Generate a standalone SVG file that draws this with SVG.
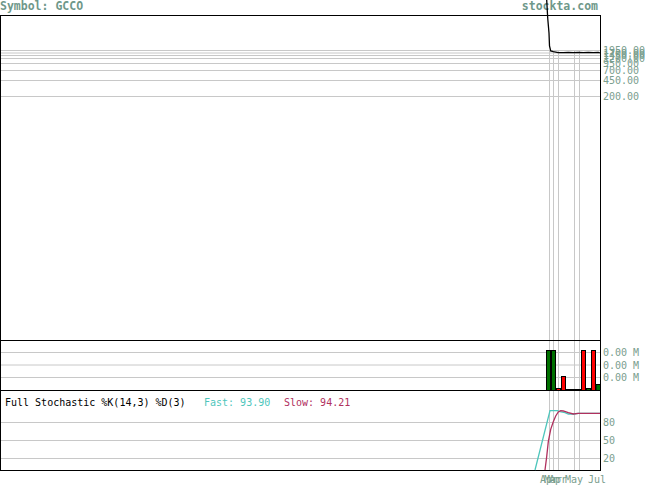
<svg xmlns="http://www.w3.org/2000/svg" width="655" height="486" viewBox="0 0 655 486">
<style>
.bg{fill:#ffffff}
.frame{fill:none;stroke:#000;stroke-width:1}
.grid{stroke:#c8c8c8;stroke-width:1;fill:none}
.lbl{font-family:"DejaVu Sans Mono","Liberation Mono",monospace;font-size:10px;fill:#7a9e8e}
.hdr{font-family:"DejaVu Sans Mono","Liberation Mono",monospace;font-size:11.5px;font-weight:bold;fill:#6f988a}
.title{font-family:"DejaVu Sans Mono","Liberation Mono",monospace;font-size:10px;fill:#000}
.fast{fill:#4ec6bc}
.slow{fill:#b0305e}
.price{fill:none;stroke:#000;stroke-width:1.3}
.vg{fill:#007000;stroke:#000;stroke-width:1}
.vr{fill:#ff0000;stroke:#000;stroke-width:1}
.kline{fill:none;stroke:#4ec6bc;stroke-width:1.3}
.dline{fill:none;stroke:#b0305e;stroke-width:1.3}
</style>
<rect class="bg" x="0" y="0" width="655" height="486"/>

<g id="header">
<text class="hdr" x="0" y="10">Symbol: GCCO</text>
<text class="hdr" x="598" y="10" text-anchor="end">stockta.com</text>
</g>

<g id="grid">
<path class="grid" d="M1 50.5H600M1 53H600M1 55.5H600M1 58.5H600M1 63.5H600M1 70.5H600M1 80.5H600M1 96.5H600"/>
<path class="grid" d="M1 352.5H600M1 365H600M1 377.5H600"/>
<path class="grid" d="M1 422.5H600M1 440.5H600M1 458.5H600"/>
<path class="grid" d="M549.5 50.5V470M553.5 50.5V470M558.5 50.5V470M574.5 50.5V470M579.5 50.5V470"/>
</g>

<g id="price-panel">
<rect class="frame" x="0.5" y="15.5" width="600" height="325"/>
<polyline class="price" points="546.7,0 547.7,18 549,33 549.5,46 550.7,51 553.3,51.7 558.3,52.7 563.3,52.7 568.3,52.3 573.3,52.7 578.3,52.3 583.3,52.7 588.3,52.3 593.3,52.7 598.3,52.3 600.5,53"/>
<g class="lbl">
<text x="603" y="54">1950.00</text>
<text x="603" y="56.5">1700.00</text>
<text x="603" y="59">1450.00</text>
<text x="603" y="62">1200.00</text>
<text x="603" y="67">950.00</text>
<text x="603" y="74">700.00</text>
<text x="603" y="84">450.00</text>
<text x="603" y="100">200.00</text>
</g>
</g>

<g id="volume-panel">
<rect class="frame" x="0.5" y="340.5" width="600" height="50"/>
<rect class="vg" x="546.5" y="350.5" width="4" height="40"/>
<rect class="vg" x="551.5" y="350.5" width="4" height="40"/>
<rect class="vr" x="556.5" y="388.5" width="4" height="2"/>
<rect class="vr" x="561.5" y="376.5" width="4" height="14"/>
<path d="M565.5 389.5H581" stroke="#000" stroke-width="1"/>
<rect class="vr" x="581.5" y="350.5" width="4" height="40"/>
<rect class="vg" x="586.5" y="388.5" width="4" height="2"/>
<rect class="vr" x="591.5" y="350.5" width="4" height="40"/>
<rect class="vg" x="596" y="384.5" width="4.5" height="6"/>
<g class="lbl">
<text x="603" y="356">0.00 M</text>
<text x="603" y="368.5">0.00 M</text>
<text x="603" y="381">0.00 M</text>
</g>
</g>

<g id="stoch-panel">
<rect class="frame" x="0.5" y="390.5" width="600" height="80"/>
<text class="title" x="5" y="406">Full Stochastic %K(14,3) %D(3)</text>
<text class="lbl fast" x="204" y="406">Fast: 93.90</text>
<text class="lbl slow" x="284" y="406">Slow: 94.21</text>
<polyline class="kline" points="535,470 550,410.7 557.3,410.7 560,411.7 565,412.7 568.3,414 573.3,414 578.3,413.3 600,413.3"/>
<polyline class="dline" points="545,470 546.7,456.7 548.3,441.7 550.7,429.3 553.3,421.7 555.7,416 558.3,412 560.7,410.7 563.3,411 568.3,412.7 573.3,414 578.3,413.3 600,413.3"/>
<g class="lbl">
<text x="603" y="426">80</text>
<text x="603" y="444">50</text>
<text x="603" y="462">20</text>
</g>
</g>

<g id="dates" class="lbl">
<text x="540" y="483">Apr</text>
<text x="544" y="483">Mar</text>
<text x="549" y="483">Apr</text>
<text x="565" y="483">May</text>
<text x="588" y="483">Jul</text>
</g>
</svg>
